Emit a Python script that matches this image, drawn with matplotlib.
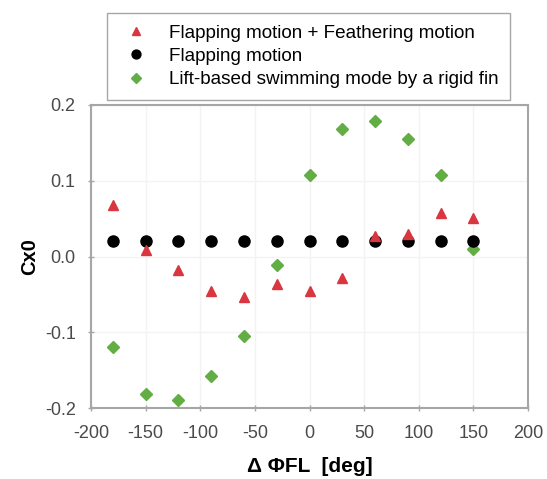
import matplotlib
matplotlib.use("Agg")
import matplotlib.pyplot as plt

plt.rcParams['font.family'] = ['Liberation Sans', 'DejaVu Sans']

# phase difference [deg]
phase = [-180, -150, -120, -90, -60, -30, 0, 30, 60, 90, 120, 150]

# Cx0 for each mode
cx_flap_feather = [0.068, 0.009, -0.018, -0.045, -0.053, -0.036, -0.046, -0.029, 0.027, 0.030, 0.057, 0.051]
cx_flap = [0.020, 0.020, 0.020, 0.020, 0.020, 0.020, 0.020, 0.020, 0.020, 0.020, 0.020, 0.020]
cx_rigid = [-0.119, -0.182, -0.189, -0.158, -0.105, -0.011, 0.108, 0.168, 0.179, 0.155, 0.107, 0.010]

labels = ["Flapping motion + Feathering motion",
          "Flapping motion",
          "Lift-based swimming mode by a rigid fin"]

xticks = [-200, -150, -100, -50, 0, 50, 100, 150, 200]
yticks = [-0.2, -0.1, 0.0, 0.1, 0.2]

fig = plt.figure(figsize=(5.47, 4.79), dpi=100)
ax = fig.add_axes([0.1664, 0.1482, 0.799, 0.6326])

# green first, red last so it sits on top
h_rigid, = ax.plot(phase, cx_rigid, linestyle='none', marker='D', ms=6.5,
                   color='#63ad45', mec='#63ad45', zorder=3)
h_flap, = ax.plot(phase, cx_flap, linestyle='none', marker='o', ms=8,
                  color='black', zorder=4)
h_ff, = ax.plot(phase, cx_flap_feather, linestyle='none', marker='^', ms=7.5,
                color='#d9363f', zorder=5)

ax.set_xlim(-200, 200)
ax.set_ylim(-0.2, 0.2)
ax.set_xticks(xticks)
ax.set_yticks(yticks)
ax.set_xticklabels([str(t) for t in xticks])
ax.set_yticklabels([f"{t:.1f}" for t in yticks])

ax.grid(True, color='#f3f3f3', linewidth=1.0, zorder=0)
ax.set_axisbelow(True)

for s in ax.spines.values():
    s.set_color('#a6a6a6')
    s.set_linewidth(1.5)
ax.tick_params(direction='inout', length=4, width=1, color='#a6a6a6',
               labelsize=13, labelcolor='#4a4a4a')
ax.tick_params(axis='x', pad=10)
ax.tick_params(axis='y', pad=9)

ax.set_xlabel("Δ ΦFL  [deg]", fontsize=15, fontweight='bold', labelpad=11)
ax.set_ylabel("Cx0", fontsize=14.5, fontweight='bold', labelpad=4)

fig.legend([h_ff, h_flap, h_rigid], labels, loc='upper left',
           bbox_to_anchor=(107 / 547, 1 - 13 / 479), borderaxespad=0,
           fancybox=False, edgecolor='#a6a6a6', fontsize=13.6, handlelength=1.9,
           handletextpad=0.8, labelspacing=0.33, borderpad=0.6, markerscale=0.8,
           framealpha=1)

fig.savefig("out.png", dpi=100)
